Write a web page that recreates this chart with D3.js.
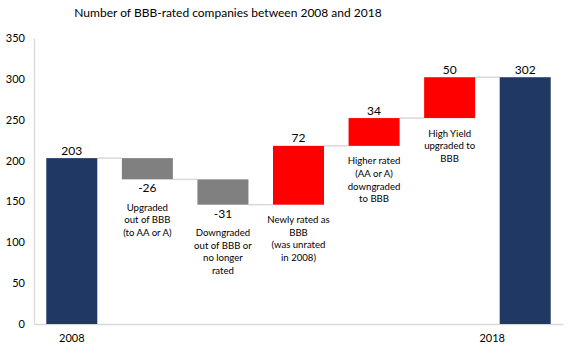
<!DOCTYPE html>
<html><head><meta charset="utf-8">
<script src="https://cdn.jsdelivr.net/npm/d3@7"></script>
<style>body{margin:0;background:#fff}svg{display:block}text{font-family:Lato,"Open Sans",sans-serif}</style>
</head><body><svg id="c" width="575" height="354"></svg>
<script>
const title = "Number of BBB-rated companies between 2008 and 2018";
const categories = ["2008","Upgraded","Downgraded","Newly","Higher","HighYield","2018"];
const values = [203, -26, -31, 72, 34, 50, 302];
const kinds = ["total","delta","delta","delta","delta","delta","total"];
const xLabels = ["2008","","","","","","2018"];
const notes = [
  [],
  ["Upgraded","out of BBB","(to AA or A)"],
  ["Downgraded","out of BBB or","no longer","rated"],
  ["Newly rated as","BBB","(was unrated","in 2008)"],
  ["Higher rated","(AA or A)","downgraded","to BBB"],
  ["High Yield","upgraded to","BBB"],
  []
];
const yTicks = [0,50,100,150,200,250,300,350];

const svg = d3.select("#c");
const x = d3.scaleBand().domain(categories).range([34,563]).paddingInner(0.325).paddingOuter(0.1625);
const y = d3.scaleLinear().domain([0,350]).range([324,38]);

let run = 0;
const bars = values.map((v,i)=>{
  let y0,y1;
  if(kinds[i]==="total"){ y0=0; y1=v; run=v; }
  else { y0=run; y1=run+v; run=y1; }
  return {cat:categories[i], v, y0, y1, kind:kinds[i], lo:Math.min(y0,y1), hi:Math.max(y0,y1), end:y1};
});
const color = d => d.kind==="total" ? "#203864" : (d.v<0 ? "#808080" : "#ff0000");

svg.append("text").attr("x",228).attr("y",17).attr("text-anchor","middle")
  .attr("font-size",12).attr("fill","#000").text(title);

const gy = svg.append("g").attr("transform","translate(34,0)")
  .call(d3.axisLeft(y).tickValues(yTicks).tickSize(0).tickPadding(9));
gy.select(".domain").attr("stroke","#d9d9d9").attr("stroke-width",1.3);
gy.selectAll("text").attr("font-size",11).attr("fill","#000").style("font-family","Lato,sans-serif");

const gx = svg.append("g").attr("transform","translate(0,324)")
  .call(d3.axisBottom(x).tickSize(0).tickFormat((d,i)=>xLabels[i]).tickPadding(10));
gx.select(".domain").attr("stroke","#d9d9d9").attr("stroke-width",1.3);
gx.selectAll("text").attr("font-size",11).attr("fill","#000").style("font-family","Lato,sans-serif")
  .attr("dx",(d,i)=> i===6 ? -33 : 0);

for(let i=0;i<bars.length-1;i++){
  svg.append("line").attr("x1",x(categories[i])+x.bandwidth()).attr("x2",x(categories[i+1]))
    .attr("y1",y(bars[i].end)).attr("y2",y(bars[i].end))
    .attr("stroke","#d9d9d9").attr("stroke-width",1.5);
}

svg.selectAll("rect.bar").data(bars).join("rect").attr("class","bar")
  .attr("x",d=>x(d.cat)).attr("width",x.bandwidth())
  .attr("y",d=>y(d.hi)).attr("height",d=>y(d.lo)-y(d.hi))
  .attr("fill",color);

svg.selectAll("text.val").data(bars).join("text").attr("class","val")
  .attr("x",d=>x(d.cat)+x.bandwidth()/2)
  .attr("y",d=> d.v<0 ? y(d.lo)+13 : y(d.hi)-3.5)
  .attr("text-anchor","middle").attr("font-size",12).attr("fill","#000")
  .text(d=>String(d.v));

bars.forEach((d,i)=>{
  if(!notes[i].length) return;
  const start = d.v<0 ? y(d.lo)+31.5 : y(d.lo)+18.5;
  const t = svg.append("text").attr("text-anchor","middle").attr("font-size",9.6).attr("fill","#000");
  notes[i].forEach((line,j)=>{
    t.append("tspan").attr("x",x(d.cat)+x.bandwidth()/2).attr("y",start+j*12.6).text(line);
  });
});
</script></body></html>
